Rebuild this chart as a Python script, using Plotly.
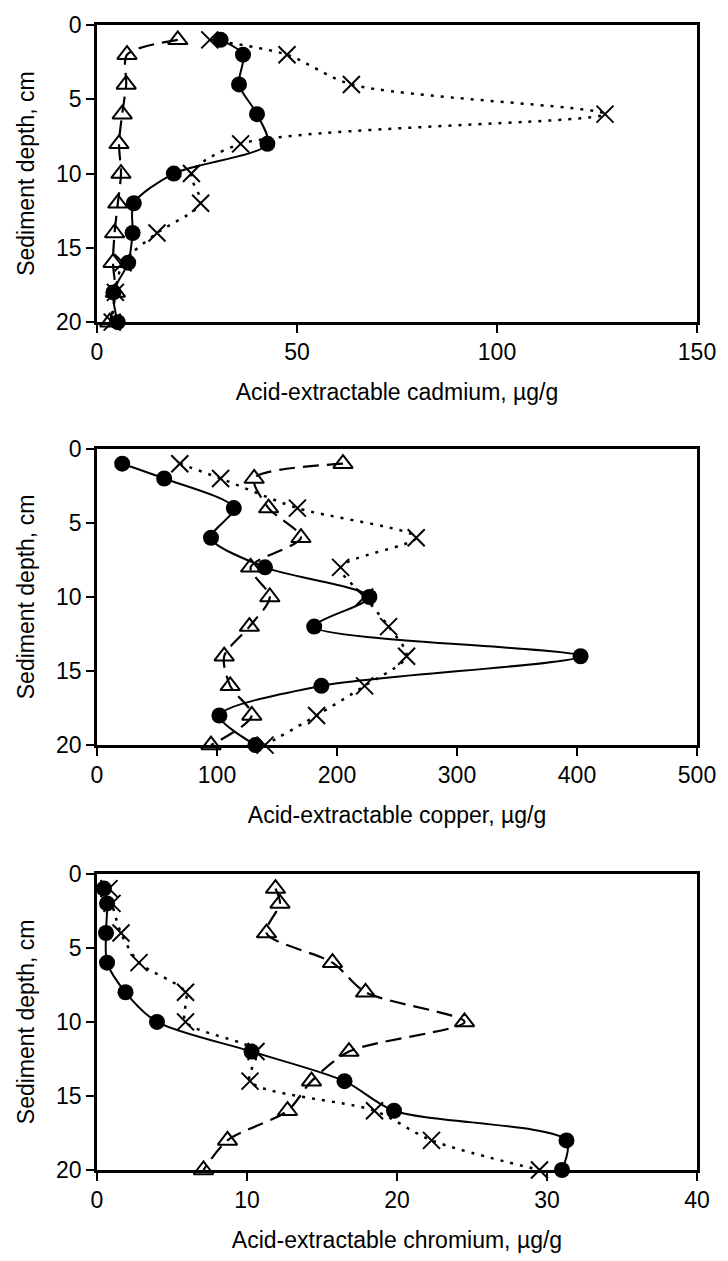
import plotly.graph_objects as go
from plotly.subplots import make_subplots

depth = [1, 2, 4, 6, 8, 10, 12, 14, 16, 18, 20]

cd_circle = [30.9, 36.5, 35.5, 40.0, 42.6, 19.2, 9.2, 8.9, 7.8, 4.1, 5.2]
cd_cross = [28.2, 47.5, 63.6, 127.0, 35.9, 23.6, 25.9, 15.0, 6.5, 4.6, 3.8]
cd_tri = [20.2, 7.5, 7.3, 6.3, 5.5, 6.0, 5.2, 4.4, 4.0, 4.6, 3.2]

cu_circle = [21, 56, 114, 95, 140, 227, 181, 403, 187, 102, 132]
cu_cross = [69, 103, 167, 266, 203, 223, 243, 258, 223, 183, 140]
cu_tri = [205, 131, 143, 170, 128, 144, 127, 106, 111, 129, 95]

cr_circle = [0.46, 0.67, 0.6, 0.67, 1.9, 4.0, 10.3, 16.5, 19.8, 31.3, 31.0]
cr_cross = [0.8, 1.0, 1.6, 2.8, 5.9, 5.9, 10.6, 10.2, 18.5, 22.3, 29.5]
cr_tri = [11.9, 12.2, 11.3, 15.7, 17.9, 24.5, 16.8, 14.3, 12.7, 8.7, 7.1]

x_titles = ["Acid-extractable cadmium, µg/g",
            "Acid-extractable copper, µg/g",
            "Acid-extractable chromium, µg/g"]
x_ranges = [[0, 150], [0, 500], [0, 40]]
x_dticks = [50, 100, 10]
y_title = "Sediment depth, cm"

panels = [
    (cd_circle, cd_cross, cd_tri),
    (cu_circle, cu_cross, cu_tri),
    (cr_circle, cr_cross, cr_tri),
]

FONT = "Liberation Sans, Arial, sans-serif"
FS = 23

fig = make_subplots(rows=3, cols=1)

for i, (circ, cross, tri) in enumerate(panels, start=1):
    fig.add_trace(go.Scatter(
        x=tri, y=depth, mode="lines+markers",
        line=dict(color="black", width=2.2, dash="16px,8px", shape="spline", smoothing=0.8),
        marker=dict(symbol="triangle-up-open", size=17, color="black", line=dict(width=2, color="black")),
        cliponaxis=False, showlegend=False), row=i, col=1)
    fig.add_trace(go.Scatter(
        x=cross, y=depth, mode="lines+markers",
        line=dict(color="black", width=2.5, dash="3px,7px", shape="spline", smoothing=0.8),
        marker=dict(symbol="x-thin-open", size=17, color="black", line=dict(width=2, color="black")),
        cliponaxis=False, showlegend=False), row=i, col=1)
    fig.add_trace(go.Scatter(
        x=circ, y=depth, mode="lines+markers",
        line=dict(color="black", width=2, shape="spline", smoothing=0.8),
        marker=dict(symbol="circle", size=16, color="black"),
        cliponaxis=False, showlegend=False), row=i, col=1)

axis_common = dict(showline=True, linecolor="black", linewidth=2.5, mirror=True,
                   ticks="outside", ticklen=8, tickwidth=2, tickcolor="black",
                   showgrid=False, zeroline=False,
                   tickfont=dict(family=FONT, size=FS, color="black"))

y_domains = [[0.7405, 1.0], [0.3711, 0.6298], [0.0, 0.2587]]

for i in range(3):
    sfx = "" if i == 0 else str(i + 1)
    fig.update_layout(**{
        "xaxis" + sfx: dict(range=x_ranges[i], dtick=x_dticks[i], tick0=0,
                            title=dict(text=x_titles[i], standoff=20,
                                       font=dict(family=FONT, size=FS, color="black")),
                            **axis_common),
        "yaxis" + sfx: dict(range=[20, 0], dtick=5, tick0=0, domain=y_domains[i],
                            title=dict(text=y_title, standoff=16,
                                       font=dict(family=FONT, size=FS, color="black")),
                            **axis_common),
    })

fig.update_layout(
    width=728, height=1261,
    margin=dict(l=97, r=25, t=21, b=84),
    paper_bgcolor="white", plot_bgcolor="white",
    font=dict(family=FONT, size=FS, color="black"),
)

fig.write_html("out.html")
